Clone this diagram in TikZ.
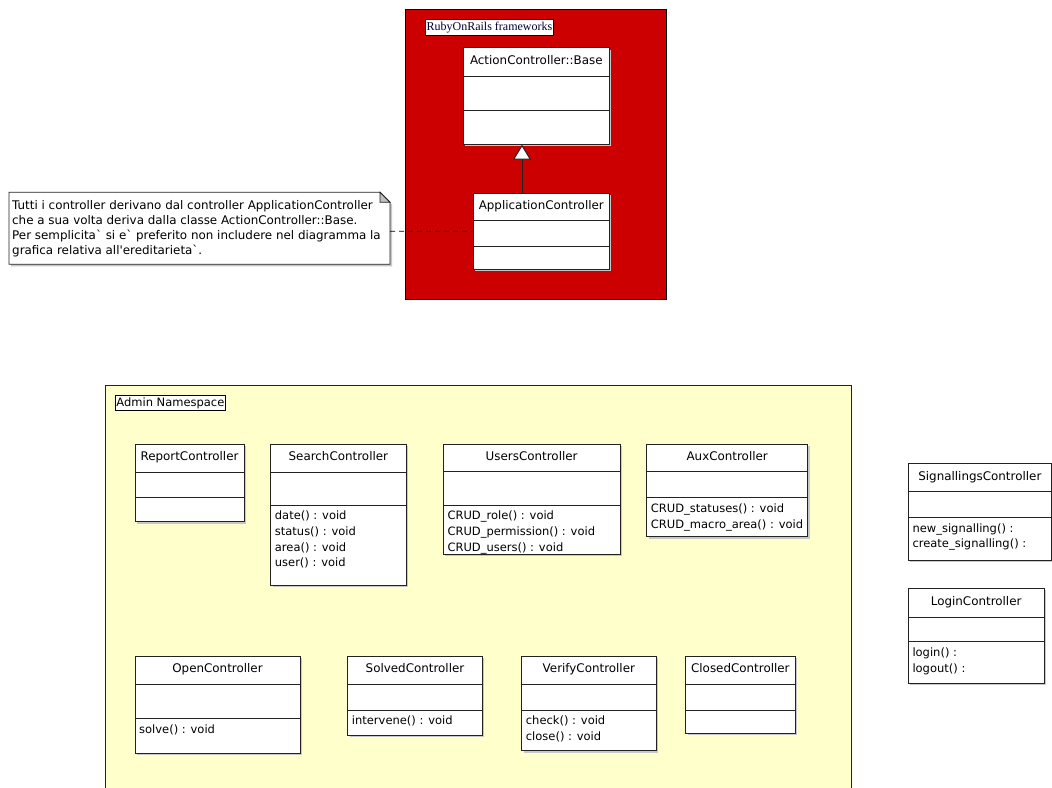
\documentclass[tikz,border=0pt]{standalone}
\usepackage{fontspec}
\setmainfont{DejaVu Sans}
\newfontfamily\framefont{Liberation Serif}
\usetikzlibrary{fit,calc,arrows.meta}

\definecolor{railsred}{HTML}{CC0000}
\definecolor{nsyellow}{HTML}{FFFFCC}
\definecolor{umlline}{HTML}{222222}

\tikzset{
  umlbox/.style={draw=umlline, line width=0.8pt, fill=white, inner sep=0pt},
  umlshadow/.style={fill=black!22},
  divider/.style={draw=umlline, line width=0.8pt},
  classname/.style={font=\fontsize{11.9}{13}\selectfont, inner sep=0pt,
    text height=8.8pt, text depth=2.4pt},
  members/.style={font=\fontsize{11.5}{15.6}\selectfont, inner sep=0pt,
    align=left, anchor=north west},
  framelabel/.style={draw=black, line width=0.8pt, fill=white, inner sep=1.2pt,
    anchor=north west},
  frame/.style={draw=black, line width=0.9pt},
  notetext/.style={font=\fontsize{11.9}{14.8}\selectfont, inner sep=0pt,
    align=left, anchor=north west},
  inherit/.style={draw=umlline, line width=1pt,
    -{Triangle[open, length=15pt, width=18pt, fill=white]}},
  anchorline/.style={draw=black, line width=0.8pt, dashed, dash pattern=on 5pt off 4pt},
}

% name, x1, y1, x2, y2, first divider, second divider, title, operations
\newcommand\umlclass[9]{%
  \fill[umlshadow] (#2+2,#3+2) rectangle (#4+2,#5+2);
  \node[umlbox, fit={(#2,#3) (#4,#5)}] (#1) {};
  \draw[divider] (#2,#6) -- (#4,#6);
  \draw[divider] (#2,#7) -- (#4,#7);
  \node[classname] (#1-name) at ($(#1.north)+(0,14)$) {#8};
  \node[members] (#1-ops) at (#2+4,#7+6) {#9};
}

\begin{document}
\begin{tikzpicture}[x=1pt, y=-1pt]
\useasboundingbox (0,0) rectangle (1052,787);
\clip (0,0) rectangle (1052,787);
\fill[white] (0,0) rectangle (1052,787);

% Rails framework package
\fill[railsred] (405.5,9) rectangle (666.5,299);
\draw[frame] (405.5,9) rectangle (666.5,299);
\node[framelabel, font=\framefont\fontsize{12}{13}\selectfont, text=black!80!blue,
  inner ysep=2.6pt, text height=8.6pt, text depth=2.6pt]
  (railslabel) at (425,19) {RubyOnRails frameworks};

\umlclass{base}{463.3}{47.7}{609.3}{144.3}{76}{110.7}{ActionController::Base}{}
\umlclass{app}{473.3}{193}{609.3}{269.3}{220.3}{246.7}{ApplicationController}{}

\coordinate (inh) at (522,0);
\draw[inherit] (app.north -| inh) -- (base.south -| inh);

% Comment note
\fill[umlshadow] (11,194.3) -- (382,194.3) -- (392,204.3) -- (392,266.3) -- (11,266.3) -- cycle;
\draw[draw=umlline, line width=0.8pt, fill=white]
  (9,192.3) -- (380,192.3) -- (390,202.3) -- (390,264.3) -- (9,264.3) -- cycle;
\draw[draw=umlline, line width=0.8pt, fill=black!25]
  (380,192.3) -- (380,202.3) -- (390,202.3) -- cycle;
\node[notetext] (note) at (12,200.5) {Tutti i controller derivano dal controller ApplicationController\\
che a sua volta deriva dalla classe ActionController::Base.\\
Per semplicita\textasciigrave\ si e\textasciigrave\ preferito non includere nel diagramma la\\
grafica relativa all\textquotesingle ereditarieta\textasciigrave.};
\coordinate (note-e) at (390,231.2);
\draw[anchorline] (note-e) -- (app.west);

% Admin namespace package
\fill[nsyellow] (105.5,385) rectangle (851,800);
\draw[frame, draw=umlline] (105.5,800) -- (105.5,385) -- (851,385) -- (851,800);
\node[framelabel, font=\fontsize{11.5}{13}\selectfont, inner sep=1pt,
  inner ysep=2pt]
  (adminlabel) at (115,395) {Admin Namespace};

\umlclass{report}{135}{444}{244}{521.7}{472.3}{497.3}{ReportController}{}
\umlclass{search}{270.7}{444}{406}{585}{472.3}{505}{SearchController}
  {date() : void\\status() : void\\area() : void\\user() : void}
\umlclass{users}{443.3}{444}{620}{554.3}{471.7}{505}{UsersController}
  {CRUD\_role() : void\\CRUD\_permission() : void\\CRUD\_users() : void}
\umlclass{aux}{646.7}{444}{807.7}{536.7}{471.7}{497.5}{AuxController}
  {CRUD\_statuses() : void\\CRUD\_macro\_area() : void}

\umlclass{open}{135}{656}{300}{753.3}{684}{718.7}{OpenController}{solve() : void}
\umlclass{solved}{347.7}{656}{482.3}{735}{684}{710}{SolvedController}{intervene() : void}
\umlclass{verify}{521.7}{656}{656}{750.7}{684}{710}{VerifyController}
  {check() : void\\close() : void}
\umlclass{closed}{685.7}{656}{795}{733.3}{684}{710}{ClosedController}{}

% Controllers outside the namespace
\umlclass{signal}{908.3}{463.3}{1051.4}{560}{491}{517.3}{SignallingsController}
  {new\_signalling() :\\create\_signalling() :}
\umlclass{login}{908.3}{588.3}{1044}{683.3}{617.3}{641.7}{LoginController}
  {login() :\\logout() :}
\end{tikzpicture}
\end{document}
